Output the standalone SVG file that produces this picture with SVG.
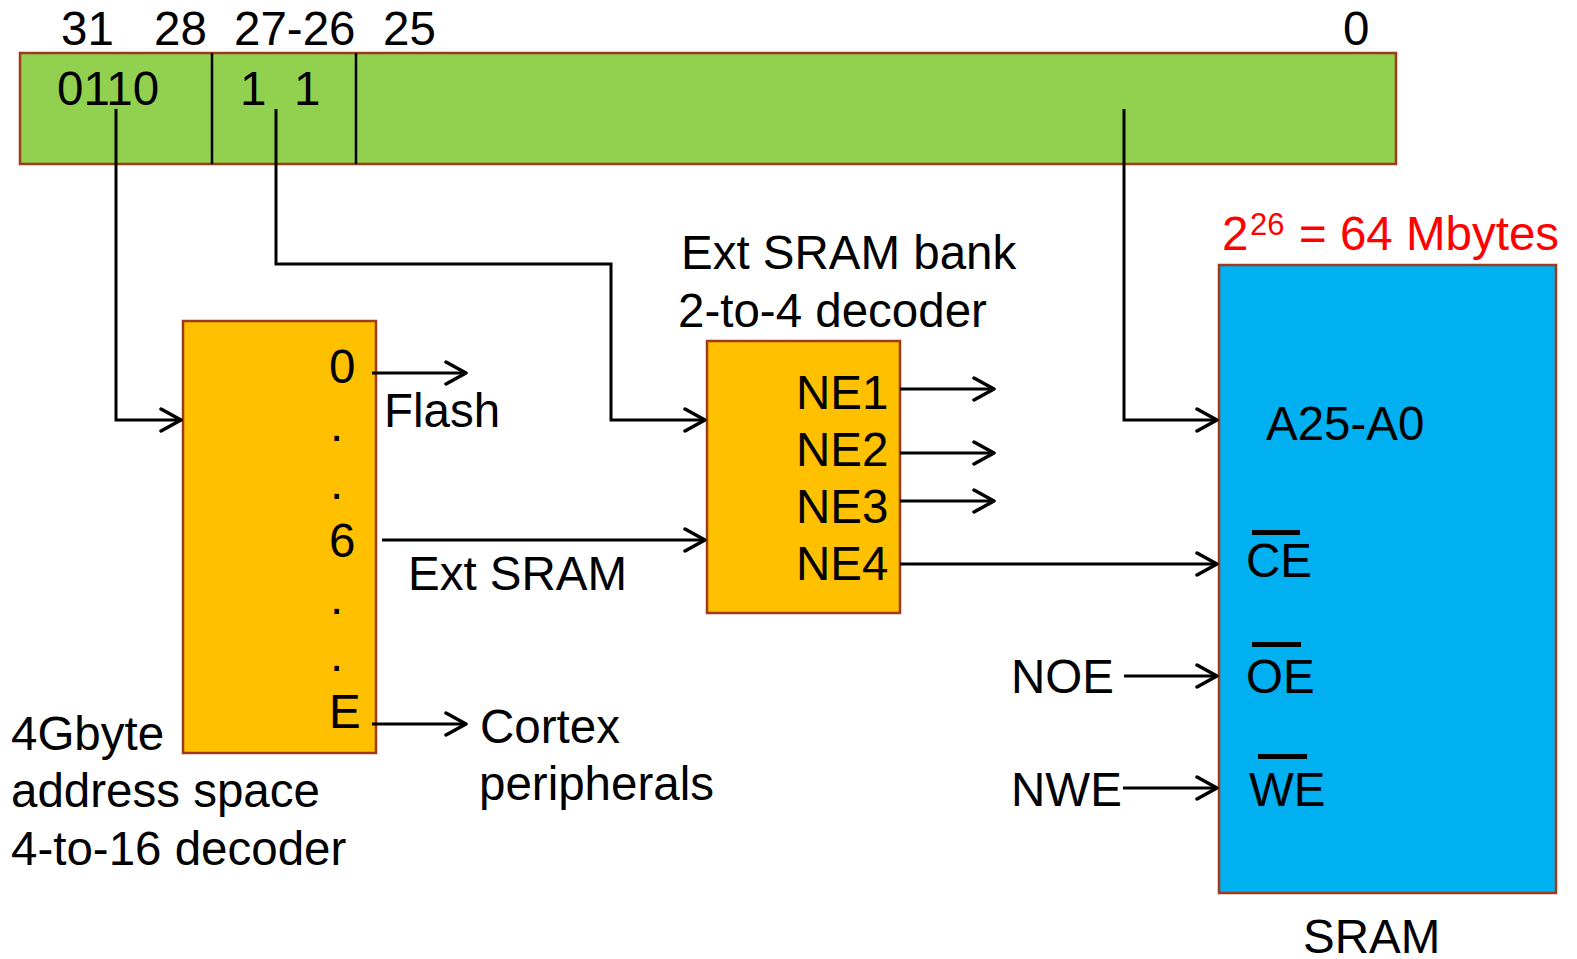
<svg xmlns="http://www.w3.org/2000/svg" width="1577" height="959" viewBox="0 0 1577 959">
<style>
text{font-family:"Liberation Sans",Arial,sans-serif;font-size:47.5px;fill:#000}
.box{stroke:#9E3B1B;stroke-width:2.5}
.con{fill:none;stroke:#000;stroke-width:3}
.ovl{fill:#000}
</style>
<defs>
<marker id="arr" viewBox="0 0 24 26" refX="22" refY="13" markerWidth="24" markerHeight="26" markerUnits="userSpaceOnUse" orient="auto">
<path d="M2,2 L22,13 L2,24" fill="none" stroke="#000" stroke-width="3.5" stroke-linecap="round" stroke-linejoin="round"/>
</marker>
</defs>
<rect width="1577" height="959" fill="#fff"/>

<g id="address-register">
<rect class="box" x="20" y="53" width="1376" height="111" fill="#92D050"/>
<line x1="212" y1="53" x2="212" y2="164" stroke="#000" stroke-width="2.5"/>
<line x1="356" y1="53" x2="356" y2="164" stroke="#000" stroke-width="2.5"/>
<text x="61" y="45">31</text>
<text x="154" y="45">28</text>
<text x="234" y="45">27-26</text>
<text x="383" y="45">25</text>
<text x="1343" y="45">0</text>
<text x="57" y="105">0110</text>
<text x="240" y="105">1<tspan x="294">1</tspan></text>
</g>

<g id="decoder-4to16">
<rect class="box" x="183" y="321" width="193" height="432" fill="#FFC000"/>
<text x="329" y="383">0</text>
<text x="330" y="441">.</text>
<text x="330" y="499">.</text>
<text x="329" y="557">6</text>
<text x="330" y="614">.</text>
<text x="330" y="671">.</text>
<text x="329" y="728">E</text>
<text x="11" y="750">4Gbyte</text>
<text x="11" y="807">address space</text>
<text x="11" y="865">4-to-16 decoder</text>
</g>

<g id="decoder-2to4">
<rect class="box" x="707" y="341" width="193" height="272" fill="#FFC000"/>
<text x="796" y="409">NE1</text>
<text x="796" y="466">NE2</text>
<text x="796" y="523">NE3</text>
<text x="796" y="580">NE4</text>
<text x="681" y="269">Ext SRAM bank</text>
<text x="678" y="327">2-to-4 decoder</text>
</g>

<g id="sram">
<rect class="box" x="1219" y="265" width="337" height="628" fill="#00B0F0"/>
<text x="1222" y="250" style="fill:#FF0000">2<tspan x="1250" y="235" style="font-size:31px">26</tspan><tspan x="1299" y="250">= 64 Mbytes</tspan></text>
<text x="1266" y="440">A25-A0</text>
<text x="1246" y="577">CE</text>
<rect class="ovl" x="1252" y="530" width="48" height="5"/>
<text x="1246" y="693">OE</text>
<rect class="ovl" x="1252" y="642" width="49" height="5"/>
<text x="1249" y="806">WE</text>
<rect class="ovl" x="1258" y="754" width="49" height="5"/>
<text x="1303" y="953">SRAM</text>
</g>

<g id="labels">
<text x="384" y="427">Flash</text>
<text x="408" y="590">Ext SRAM</text>
<text x="480" y="743">Cortex</text>
<text x="479" y="800">peripherals</text>
<text x="1011" y="693">NOE</text>
<text x="1011" y="806">NWE</text>
</g>

<g id="connectors">
<polyline class="con" points="116,109 116,420 181,420" marker-end="url(#arr)"/>
<polyline class="con" points="276,109 276,264 611,264 611,420 705,420" marker-end="url(#arr)"/>
<polyline class="con" points="1124,109 1124,420 1217,420" marker-end="url(#arr)"/>
<line class="con" x1="372" y1="373" x2="466" y2="373" marker-end="url(#arr)"/>
<line class="con" x1="382" y1="540" x2="705" y2="540" marker-end="url(#arr)"/>
<line class="con" x1="372" y1="724" x2="466" y2="724" marker-end="url(#arr)"/>
<line class="con" x1="900" y1="389" x2="994" y2="389" marker-end="url(#arr)"/>
<line class="con" x1="900" y1="453" x2="994" y2="453" marker-end="url(#arr)"/>
<line class="con" x1="900" y1="501" x2="994" y2="501" marker-end="url(#arr)"/>
<line class="con" x1="900" y1="564" x2="1217" y2="564" marker-end="url(#arr)"/>
<line class="con" x1="1124" y1="676" x2="1217" y2="676" marker-end="url(#arr)"/>
<line class="con" x1="1123" y1="788" x2="1217" y2="788" marker-end="url(#arr)"/>
</g>
</svg>
